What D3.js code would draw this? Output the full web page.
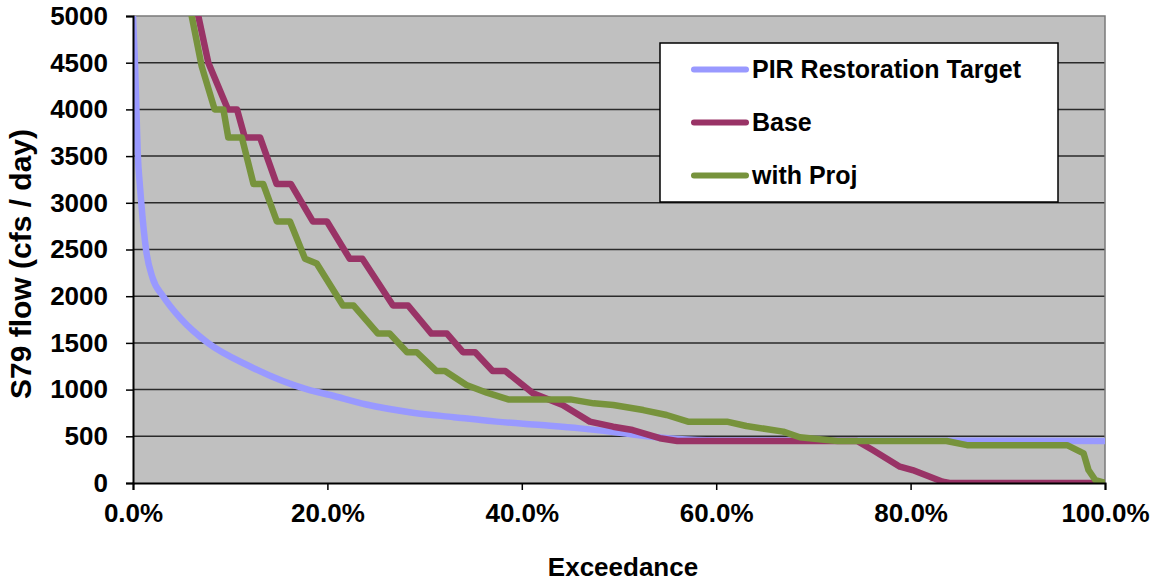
<!DOCTYPE html>
<html>
<head>
<meta charset="utf-8">
<script src="https://cdn.jsdelivr.net/npm/d3@7"></script>
<style>
  body { margin: 0; background: #fff; }
  text { font-family: Arial, "Liberation Sans", sans-serif; font-weight: bold; fill: #000; }
</style>
</head>
<body>
<div id="chart"></div>
<script>
// exceedance (%) and S79 flow (cfs/day)
var pirExceed = [0, 0.2, 0.35, 0.5, 0.7, 0.85, 1.34, 2, 3.1, 5, 7.7, 12, 18, 20.3, 24, 28.8, 33, 37.4, 42, 46, 51.1, 52.9, 56, 60, 100];
var pirFlow   = [5000, 4500, 4000, 3500, 3200, 3000, 2500, 2200, 2000, 1750, 1500, 1250, 1000, 942, 840, 753, 705, 657, 620, 585, 525, 500, 470, 455, 450];

var baseExceed = [6.72, 7.75, 9.77, 10.7, 11.5, 13.07, 14.78, 16.25, 18.5, 19.96, 22.3, 23.6, 26.75, 28.3, 30.7, 32.3, 33.95, 35.2, 37.0, 38.3, 41.15, 44.2, 47.0, 49.4, 51.4, 54.2, 56.0, 74.5, 76.1, 78.9, 80.2, 83.3, 84.0, 100];
var baseFlow   = [5000, 4500, 4000, 4000, 3700, 3700, 3200, 3200, 2800, 2800, 2400, 2400, 1900, 1900, 1600, 1600, 1400, 1400, 1200, 1200, 960, 835, 657, 603, 567, 480, 450, 450, 353, 175, 139, 14, 0, 0];

var projExceed = [6.04, 7.07, 8.4, 9.3, 9.8, 11.2, 12.4, 13.4, 14.8, 16.15, 17.7, 18.9, 21.6, 22.7, 25.2, 26.4, 28.2, 29.2, 31.2, 32.1, 34.3, 36.4, 38.6, 45.0, 47.4, 49.4, 52.5, 54.9, 57.1, 61.1, 63.1, 66.9, 68.6, 71.4, 72.5, 83.7, 85.8, 96.1, 97.8, 98.3, 99.0, 100];
var projFlow   = [5000, 4460, 4000, 4000, 3700, 3700, 3200, 3200, 2800, 2800, 2400, 2350, 1900, 1900, 1600, 1600, 1400, 1400, 1200, 1200, 1050, 967, 895, 895, 853, 835, 781, 728, 657, 657, 610, 550, 490, 460, 450, 450, 405, 405, 318, 139, 32, 0];

var seriesNames = ["PIR Restoration Target", "Base", "with Proj"];
var seriesColors = ["#9999ff", "#993366", "#77933c"];
var yTicks = [0, 500, 1000, 1500, 2000, 2500, 3000, 3500, 4000, 4500, 5000];
var xTicks = [0, 20, 40, 60, 80, 100];

var margin = { top: 16, right: 51, bottom: 98, left: 133 },
	width = 1156 - margin.left - margin.right,
	height = 581 - margin.top - margin.bottom;

var svg = d3.select("#chart")
	.append("svg")
	.attr("width", 1156)
	.attr("height", 581)
	.append("g")
	.attr("transform", "translate(" + margin.left + "," + margin.top + ")");

var x = d3.scaleLinear().domain([0, 100]).range([0, width]);
var y = d3.scaleLinear().domain([0, 5000]).range([height, 0]);

// plot area
svg.append("rect")
	.attr("width", width)
	.attr("height", height)
	.style("fill", "#c0c0c0");

// gridlines
svg.append("g")
	.selectAll("line")
	.data(yTicks.filter(function (d) { return d > 0 && d < 5000; }))
	.enter()
	.append("line")
	.attr("x1", 0)
	.attr("x2", width)
	.attr("y1", function (d) { return y(d) })
	.attr("y2", function (d) { return y(d) })
	.style("stroke", "#2a2a2a")
	.style("stroke-width", 1.5);

// top / right border
svg.append("path")
	.attr("d", "M0," + y(5000) + "H" + width + "V" + height)
	.style("fill", "none")
	.style("stroke", "#7a7a7a")
	.style("stroke-width", 1.5);

svg.append("clipPath")
	.attr("id", "clip")
	.append("rect")
	.attr("width", width)
	.attr("height", height);

// target curve is smooth, the model runs are stepped
var smoothLine = d3.line()
	.curve(d3.curveMonotoneX)
	.x(function (d) { return x(d[0]) })
	.y(function (d) { return y(d[1]) });
var stepLine = d3.line()
	.x(function (d) { return x(d[0]) })
	.y(function (d) { return y(d[1]) });

var series = [
	d3.zip(pirExceed, pirFlow),
	d3.zip(baseExceed, baseFlow),
	d3.zip(projExceed, projFlow)
];

svg.append("g")
	.attr("clip-path", "url(#clip)")
	.selectAll("path")
	.data(series)
	.enter()
	.append("path")
	.attr("d", function (d, i) { return i == 0 ? smoothLine(d) : stepLine(d) })
	.style("fill", "none")
	.style("stroke", function (d, i) { return seriesColors[i] })
	.style("stroke-width", 6.5)
	.style("stroke-linejoin", "round")
	.style("stroke-linecap", "round");

// axes
var yAxis = svg.append("g")
	.call(d3.axisLeft(y).tickValues(yTicks).tickSize(7).tickPadding(18).tickFormat(d3.format("d")));
var xAxis = svg.append("g")
	.attr("transform", "translate(0," + height + ")")
	.call(d3.axisBottom(x).tickValues(xTicks).tickSize(7).tickPadding(14).tickFormat(function (d) { return d.toFixed(1) + "%" }));

[yAxis, xAxis].forEach(function (a) {
	a.select(".domain").style("stroke", "#000").style("stroke-width", 2);
	a.selectAll(".tick line").style("stroke", "#000").style("stroke-width", 1.5);
	a.selectAll("text")
		.style("font-size", "26px")
		.style("font-family", "Arial, 'Liberation Sans', sans-serif")
		.style("font-weight", "bold")
		.style("fill", "#000");
});

// legend
var legend = svg.append("g")
	.attr("transform", "translate(" + (660 - margin.left) + "," + (43 - margin.top) + ")");

legend.append("rect")
	.attr("width", 398)
	.attr("height", 159)
	.style("fill", "#fff")
	.style("stroke", "#000")
	.style("stroke-width", 1.5);

var item = legend.selectAll(".item")
	.data(seriesNames)
	.enter()
	.append("g")
	.attr("transform", function (d, i) { return "translate(0," + (26.5 + i * 53) + ")" });

item.append("line")
	.attr("x1", 34)
	.attr("x2", 86)
	.style("stroke", function (d, i) { return seriesColors[i] })
	.style("stroke-width", 6)
	.style("stroke-linecap", "round");

item.append("text")
	.attr("x", 92)
	.attr("dy", "0.35em")
	.style("font-size", "25px")
	.text(function (d) { return d });

// axis titles
svg.append("text")
	.attr("x", width / 2 + 4)
	.attr("y", 576 - margin.top)
	.attr("text-anchor", "middle")
	.style("font-size", "26px")
	.text("Exceedance");

svg.append("text")
	.attr("transform", "translate(" + (31 - margin.left) + "," + (264 - margin.top) + ") rotate(-90)")
	.attr("text-anchor", "middle")
	.style("font-size", "30px")
	.text("S79 flow (cfs / day)");
</script>
</body>
</html>
